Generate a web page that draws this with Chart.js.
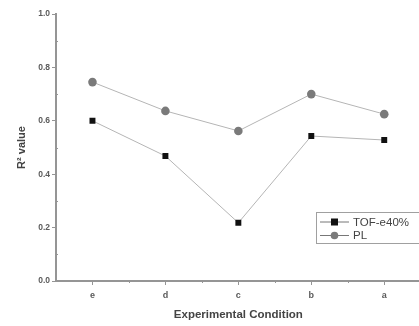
<!DOCTYPE html>
<html>
<head>
<meta charset="utf-8">
<script src="https://cdn.jsdelivr.net/npm/chart.js@4/dist/chart.umd.min.js"></script>
<style>
html,body{margin:0;padding:0;background:#fff;overflow:hidden;}
#wrap{width:425px;height:326px;position:relative;}
</style>
</head>
<body>
<div id="wrap"><canvas id="c"></canvas></div>
<script>
const categories = ['e', 'd', 'c', 'b', 'a'];
const tofValues = [0.60, 0.468, 0.218, 0.543, 0.528];
const plValues = [0.745, 0.637, 0.562, 0.700, 0.625];
const seriesNames = ['TOF-e40%', 'PL'];
const yTicks = [0.0, 0.2, 0.4, 0.6, 0.8, 1.0];
const yMinorTicks = [0.1, 0.3, 0.5, 0.7, 0.9];

const axisColor = '#959595';
const textColor = '#5a5a5a';
const lineColor = '#b5b5b5';
const fam = '"Liberation Sans", Arial, sans-serif';

const minorTicks = {
  id: 'minorTicks',
  afterDraw(chart) {
    const ctx = chart.ctx, x = chart.scales.x, y = chart.scales.y;
    ctx.save();
    ctx.strokeStyle = axisColor;
    ctx.lineWidth = 1;
    yMinorTicks.forEach(v => {
      const py = Math.round(y.getPixelForValue(v)) + 0.5;
      ctx.beginPath(); ctx.moveTo(x.left - 1, py); ctx.lineTo(x.left + 2, py); ctx.stroke();
    });
    for (let i = 0; i < categories.length - 1; i++) {
      const px = Math.round((x.getPixelForValue(i) + x.getPixelForValue(i + 1)) / 2) + 0.5;
      ctx.beginPath(); ctx.moveTo(px, y.bottom - 1); ctx.lineTo(px, y.bottom + 2); ctx.stroke();
    }
    ctx.restore();
  }
};

const boxLegend = {
  id: 'boxLegend',
  afterDraw(chart) {
    const ctx = chart.ctx;
    const bx = 316, by = 212, bw = 120, bh = 31;
    ctx.save();
    ctx.fillStyle = '#fff';
    ctx.fillRect(bx, by, bw, bh);
    ctx.strokeStyle = '#a0a0a0';
    ctx.lineWidth = 1;
    ctx.strokeRect(bx + 0.5, by + 0.5, bw, bh);
    const rows = [
      {y: by + 10, ds: chart.data.datasets[0]},
      {y: by + 23.5, ds: chart.data.datasets[1]}
    ];
    rows.forEach(r => {
      ctx.strokeStyle = '#777';
      ctx.lineWidth = 1;
      ctx.beginPath(); ctx.moveTo(bx + 4, r.y); ctx.lineTo(bx + 33, r.y); ctx.stroke();
      ctx.fillStyle = r.ds.pointBackgroundColor;
      if (r.ds.pointStyle === 'rect') {
        ctx.fillRect(bx + 15, r.y - 3.5, 7, 7);
      } else {
        ctx.beginPath(); ctx.arc(bx + 18.5, r.y, 3.8, 0, Math.PI * 2); ctx.fill();
      }
      ctx.fillStyle = '#444';
      ctx.font = '11.5px ' + fam;
      ctx.textBaseline = 'middle';
      ctx.fillText(r.ds.label, bx + 37, r.y + 0.5);
    });
    ctx.restore();
  }
};

new Chart(document.getElementById('c'), {
  type: 'line',
  data: {
    labels: categories,
    datasets: [
      {
        label: seriesNames[0], data: tofValues,
        borderColor: lineColor, borderWidth: 1,
        pointStyle: 'rect', pointRadius: 4.2,
        pointBackgroundColor: '#111', pointBorderColor: '#111', pointBorderWidth: 0,
        tension: 0
      },
      {
        label: seriesNames[1], data: plValues,
        borderColor: lineColor, borderWidth: 1,
        pointStyle: 'circle', pointRadius: 4.3,
        pointBackgroundColor: '#7a7a7a', pointBorderColor: '#7a7a7a', pointBorderWidth: 0,
        tension: 0
      }
    ]
  },
  options: {
    responsive: true,
    maintainAspectRatio: false,
    animation: false,
    layout: {padding: {left: 0, top: 14, right: 4, bottom: 0}},
    plugins: {legend: {display: false}, tooltip: {enabled: false}},
    scales: {
      x: {
        type: 'category',
        offset: true,
        grid: {display: true, drawOnChartArea: false, drawTicks: true, tickLength: 4, color: axisColor, offset: false},
        border: {color: axisColor, width: 2},
        ticks: {color: textColor, font: {size: 9, weight: 'bold', family: fam}, padding: 5, maxRotation: 0},
        title: {display: true, text: 'Experimental Condition', color: '#444', font: {size: 11.5, weight: 'bold', family: fam}, padding: {top: 0, bottom: 4}},
        afterFit(s) { s.height = 45; }
      },
      y: {
        min: 0, max: 1,
        afterBuildTicks(s) { s.ticks = yTicks.map(v => ({value: v})); },
        grid: {display: true, drawOnChartArea: false, drawTicks: true, tickLength: 4, color: axisColor},
        border: {color: axisColor, width: 2},
        ticks: {color: textColor, font: {size: 8.5, weight: 'bold', family: fam}, padding: 2,
          callback: v => Number(v).toFixed(1)},
        title: {display: true, text: 'R² value', color: '#444', font: {size: 11, weight: 'bold', family: fam}, padding: {top: 15, bottom: 0}},
        afterFit(s) { s.width = 56; }
      }
    }
  },
  plugins: [minorTicks, boxLegend]
});
</script>
</body>
</html>
